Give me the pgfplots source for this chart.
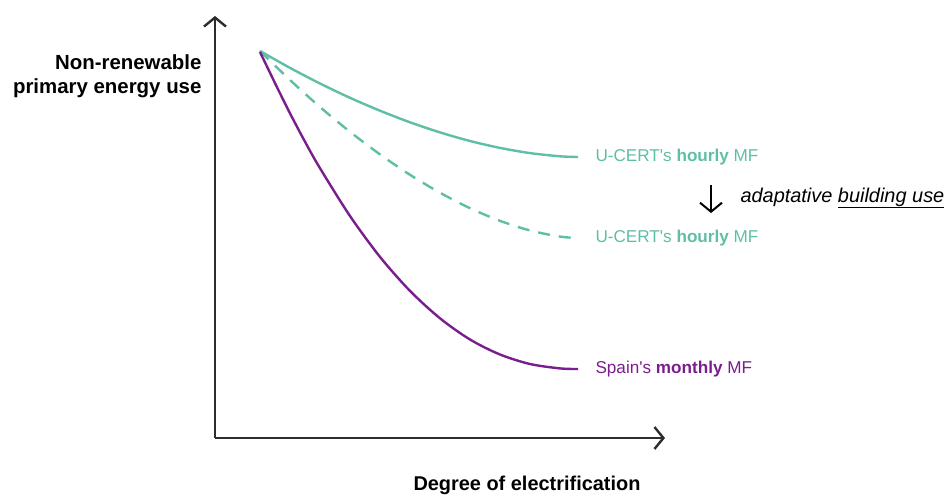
\documentclass[border=0pt]{standalone}
\usepackage{fontspec}
\setmainfont{Liberation Sans}
\usepackage{pgfplots}
\pgfplotsset{compat=1.18}
\usetikzlibrary{arrows.meta}
\definecolor{teal1}{RGB}{95,190,166}
\definecolor{purp1}{RGB}{122,30,142}
\definecolor{axgray}{RGB}{45,45,45}
\begin{document}
\begin{tikzpicture}
\begin{axis}[
  scale only axis,
  width=450bp, height=422bp,
  xmin=0, xmax=450, ymin=0, ymax=422,
  axis lines=left,
  axis line style={line width=2.4bp, axgray, -{Straight Barb[length=9bp,width=22bp,line width=2.4bp]}},
  xtick=\empty, ytick=\empty,
  clip=false,
]
% U-CERT hourly MF (solid)
\addplot[teal1, line width=2.4bp, smooth] coordinates {
 (45,387) (75,370.1) (105,354.5) (135,340.2) (165,327.3) (195,315.7) (225,305.6)
 (255,297) (285,290.1) (315,284.9) (345,281.7) (363,281)};
% U-CERT hourly MF, adaptative building use (dashed)
\addplot[teal1, line width=2.4bp, smooth, dash pattern=on 12bp off 9bp] coordinates {
 (45,387) (75,358.0) (105,331.0) (135,306.2) (165,283.6) (195,263.2) (225,245.3)
 (255,229.8) (285,217.2) (315,207.5) (345,201.4) (363,200)};
% Spain monthly MF
\addplot[purp1, line width=2.4bp, smooth] coordinates {
 (45,386) (60,354.9) (75,324.7) (90,296.3) (105,269.8) (135,222) (165,181.1)
 (195,147.1) (225,119.7) (255,98.5) (285,83.5) (315,74) (345,69.6) (363,69)};
\node[anchor=west, text=teal1, font=\fontsize{17.2}{20}\selectfont] at (axis cs:377,281) {U-CERT\textquotesingle s \textbf{hourly} MF};
\node[anchor=west, text=teal1, font=\fontsize{17.2}{20}\selectfont] at (axis cs:377,200) {U-CERT\textquotesingle s \textbf{hourly} MF};
\node[anchor=west, text=purp1, font=\fontsize{17.2}{20}\selectfont] at (axis cs:377,69) {Spain\textquotesingle s \textbf{monthly} MF};
\draw[line width=2bp, black, -{Straight Barb[length=9bp,width=22bp,line width=2bp]}] (axis cs:496,253) -- (axis cs:496,225);
\node[anchor=west, font=\fontsize{20}{22}\selectfont\itshape] at (axis cs:522,240) {adaptative \underline{building use}};
\node[anchor=east, align=right, font=\fontsize{20.5}{24}\selectfont\bfseries] at (axis cs:-10,362) {Non-renewable\\primary energy use};
\node[font=\fontsize{20}{22}\selectfont\bfseries] at (axis cs:312,-47) {Degree of electrification};
\coordinate (bbA) at (axis cs:-215,438);
\coordinate (bbB) at (axis cs:736,-58);
\end{axis}
\pgfresetboundingbox
\path (bbA) rectangle (bbB);
\end{tikzpicture}
\end{document}
